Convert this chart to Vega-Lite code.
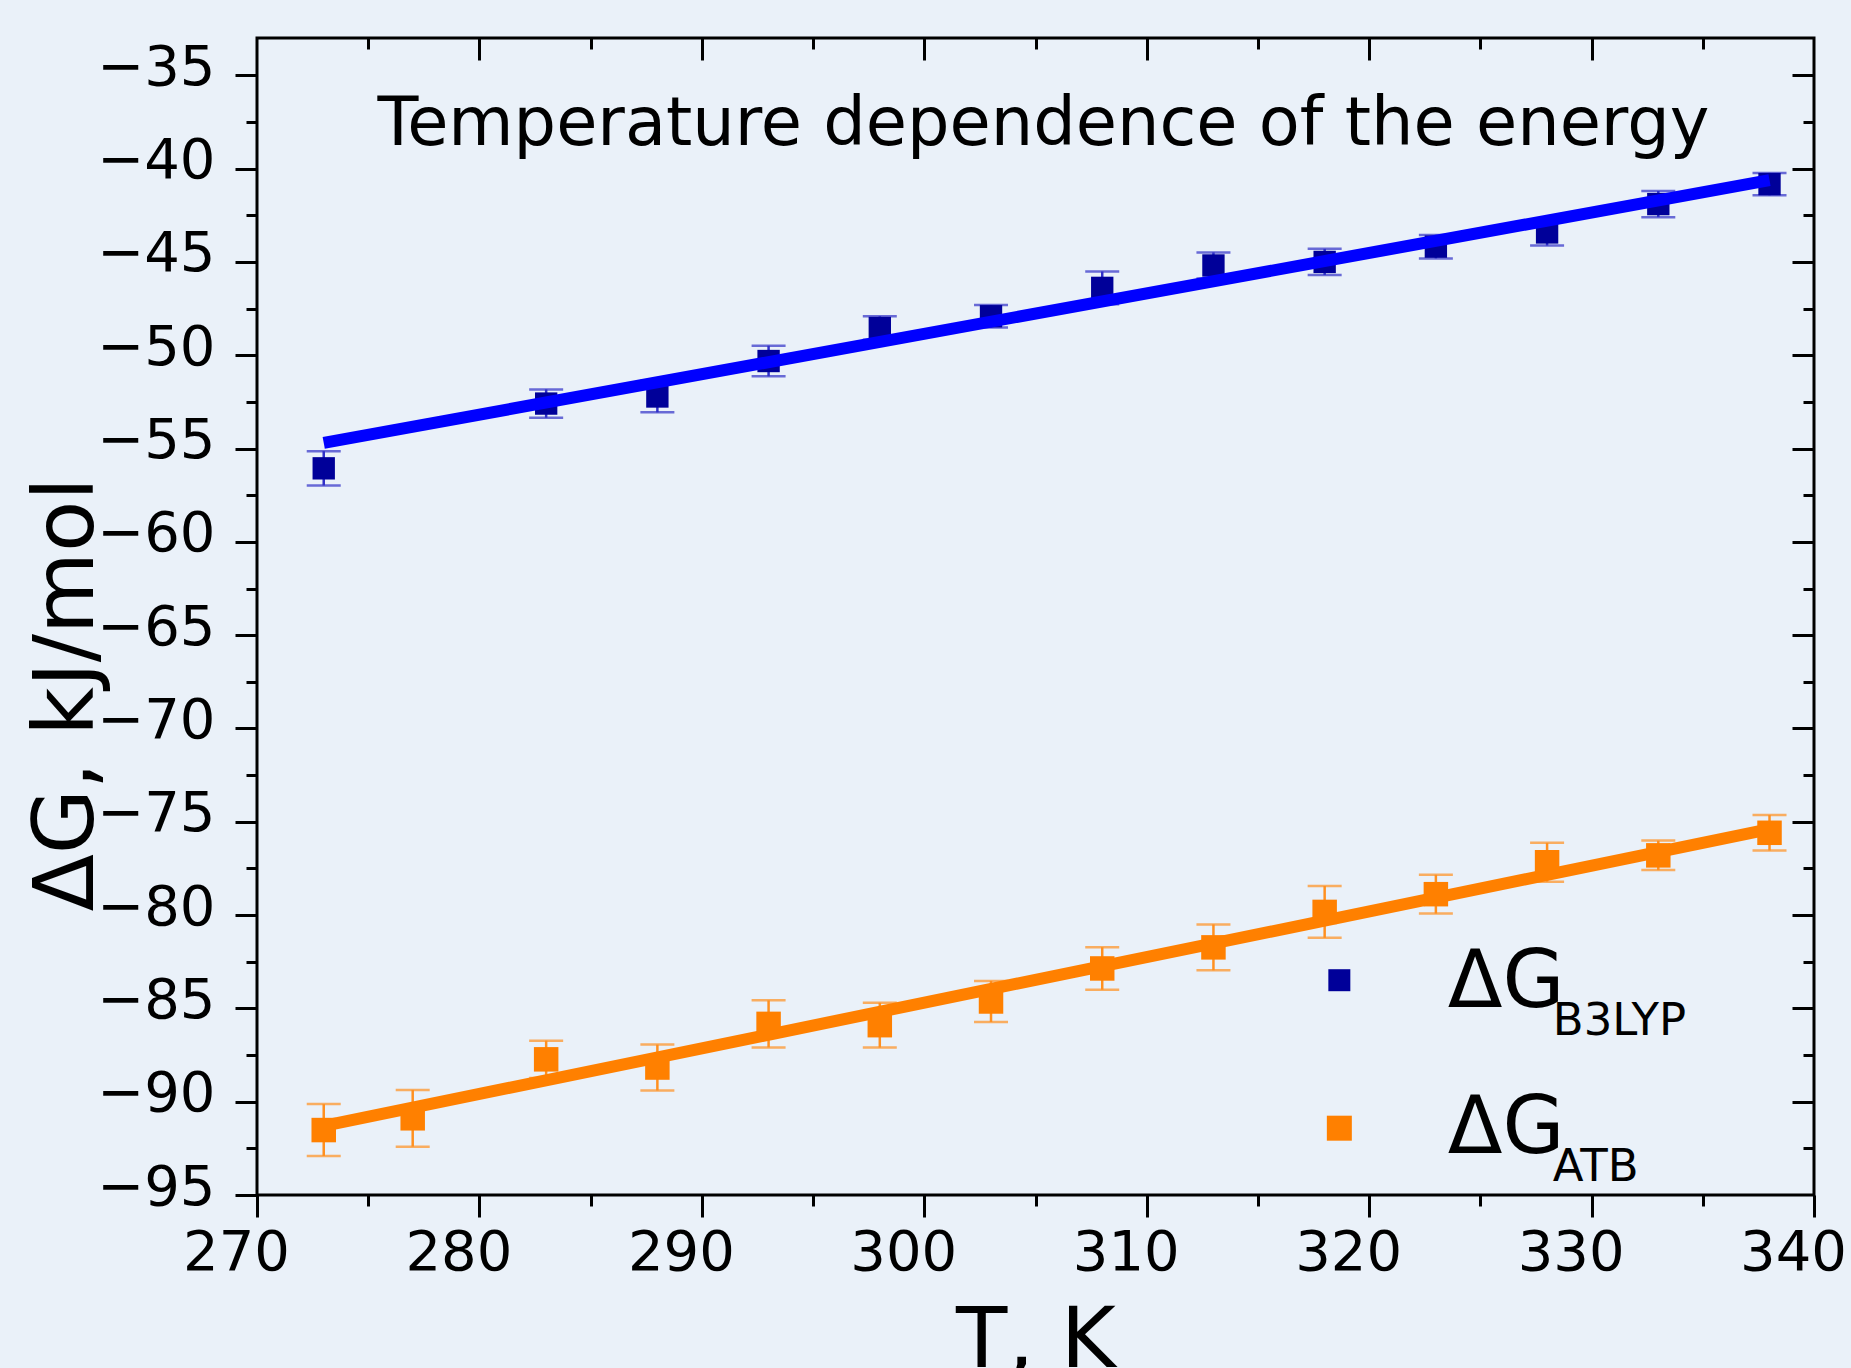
{
  "$schema": "https://vega.github.io/schema/vega-lite/v6.json",
  "autosize": {"type": "none"},
  "padding": {"left": 257, "top": 38, "right": 37, "bottom": 173},
  "width": 1557,
  "height": 1157,
  "background": "#eaf1f9",
  "title": {
    "text": "Temperature dependence of the energy",
    "orient": "top",
    "anchor": "middle",
    "frame": "group",
    "offset": -175,
    "baseline": "alphabetic",
    "dx": 8,
    "font": "DejaVu Sans",
    "fontSize": 67,
    "fontWeight": "normal",
    "color": "black"
  },
  "datasets": {
    "pts": [
      {"series": "B3LYP", "T": 273, "dG": -56.06, "lo": -56.98, "hi": -55.14},
      {"series": "B3LYP", "T": 283, "dG": -52.59, "lo": -53.35, "hi": -51.83},
      {"series": "B3LYP", "T": 288, "dG": -52.21, "lo": -53.06, "hi": -51.36},
      {"series": "B3LYP", "T": 293, "dG": -50.31, "lo": -51.13, "hi": -49.49},
      {"series": "B3LYP", "T": 298, "dG": -48.54, "lo": -49.17, "hi": -47.91},
      {"series": "B3LYP", "T": 303, "dG": -47.91, "lo": -48.51, "hi": -47.31},
      {"series": "B3LYP", "T": 308, "dG": -46.39, "lo": -47.27, "hi": -45.51},
      {"series": "B3LYP", "T": 313, "dG": -45.19, "lo": -45.89, "hi": -44.49},
      {"series": "B3LYP", "T": 318, "dG": -45.0, "lo": -45.7, "hi": -44.3},
      {"series": "B3LYP", "T": 323, "dG": -44.18, "lo": -44.81, "hi": -43.55},
      {"series": "B3LYP", "T": 328, "dG": -43.42, "lo": -44.12, "hi": -42.72},
      {"series": "B3LYP", "T": 333, "dG": -41.9, "lo": -42.6, "hi": -41.2},
      {"series": "B3LYP", "T": 338, "dG": -40.83, "lo": -41.43, "hi": -40.23},
      {"series": "ATB", "T": 273, "dG": -91.52, "lo": -92.91, "hi": -90.13},
      {"series": "ATB", "T": 277, "dG": -90.89, "lo": -92.41, "hi": -89.37},
      {"series": "ATB", "T": 283, "dG": -87.73, "lo": -88.73, "hi": -86.73},
      {"series": "ATB", "T": 288, "dG": -88.17, "lo": -89.4, "hi": -86.94},
      {"series": "ATB", "T": 293, "dG": -85.83, "lo": -87.09, "hi": -84.57},
      {"series": "ATB", "T": 298, "dG": -85.9, "lo": -87.1, "hi": -84.7},
      {"series": "ATB", "T": 303, "dG": -84.63, "lo": -85.73, "hi": -83.53},
      {"series": "ATB", "T": 308, "dG": -82.86, "lo": -84.0, "hi": -81.72},
      {"series": "ATB", "T": 313, "dG": -81.73, "lo": -82.96, "hi": -80.5},
      {"series": "ATB", "T": 318, "dG": -79.83, "lo": -81.22, "hi": -78.44},
      {"series": "ATB", "T": 323, "dG": -78.88, "lo": -79.92, "hi": -77.84},
      {"series": "ATB", "T": 328, "dG": -77.17, "lo": -78.21, "hi": -76.13},
      {"series": "ATB", "T": 333, "dG": -76.8, "lo": -77.59, "hi": -76.01},
      {"series": "ATB", "T": 338, "dG": -75.59, "lo": -76.54, "hi": -74.64}
    ],
    "fit": [
      {"series": "B3LYP", "T": 273, "fit": -54.7},
      {"series": "B3LYP", "T": 338, "fit": -40.62},
      {"series": "ATB", "T": 273, "fit": -91.3},
      {"series": "ATB", "T": 338, "fit": -75.4}
    ],
    "leg": [
      {"series": "B3LYP", "main": "ΔG", "sub": "B3LYP"},
      {"series": "ATB", "main": "ΔG", "sub": "ATB"}
    ]
  },
  "layer": [
    {
      "data": {"name": "pts"},
      "mark": {"type": "errorbar", "ticks": {"size": 34}, "thickness": 2.5},
      "encoding": {
        "x": {"field": "T", "type": "quantitative", "scale": {"domain": [270, 340], "nice": false, "zero": false}, "axis": null},
        "y": {"field": "lo", "type": "quantitative", "scale": {"domain": [-95, -33], "nice": false, "zero": false}, "axis": null},
        "y2": {"field": "hi"},
        "color": {"field": "series", "type": "nominal", "scale": {"domain": ["B3LYP", "ATB"], "range": ["#3030c8", "#ff9020"]}, "legend": null}
      }
    },
    {
      "data": {"name": "pts"},
      "mark": {"type": "point", "shape": "square", "filled": true, "opacity": 1},
      "encoding": {
        "x": {"field": "T", "type": "quantitative", "scale": {"domain": [270, 340], "nice": false, "zero": false},
          "axis": {"orient": "bottom", "values": [270, 280, 290, 300, 310, 320, 330, 340], "tickSize": 22, "tickWidth": 3, "tickColor": "black", "domain": false, "grid": false,
            "labelFont": "DejaVu Sans", "labelFontSize": 56, "labelColor": "black", "labelPadding": 8, "labelOffset": -21, "labelFlush": false, "labelOverlap": false, "labelBound": false,
            "title": "T, K", "titleFont": "DejaVu Sans", "titleFontSize": 84, "titleFontWeight": "normal", "titleColor": "black", "titleBaseline": "alphabetic", "titleY": 171}},
        "y": {"field": "dG", "type": "quantitative", "scale": {"domain": [-95, -33], "nice": false, "zero": false},
          "axis": {"orient": "left", "values": [-95, -90, -85, -80, -75, -70, -65, -60, -55, -50, -45, -40, -35], "tickSize": 22, "tickWidth": 3, "tickColor": "black", "domain": false, "grid": false,
            "labelFont": "DejaVu Sans", "labelFontSize": 56, "labelColor": "black", "labelPadding": 20, "labelOffset": -8, "labelOverlap": false, "labelBound": false, "labelFlush": false,
            "title": "ΔG, kJ/mol", "titleFont": "DejaVu Sans", "titleFontSize": 84, "titleFontWeight": "normal", "titleColor": "black", "titleAngle": 270, "titleBaseline": "alphabetic", "titleAlign": "center", "titleX": -165, "titleY": 656}},
        "color": {"field": "series", "type": "nominal", "scale": {"domain": ["B3LYP", "ATB"], "range": ["#000099", "#ff8000"]}, "legend": null},
        "size": {"field": "series", "type": "nominal", "scale": {"domain": ["B3LYP", "ATB"], "range": [500, 600]}, "legend": null}
      }
    },
    {
      "data": {"name": "fit"},
      "mark": {"type": "line", "strokeWidth": 12, "strokeCap": "butt"},
      "encoding": {
        "x": {"field": "T", "type": "quantitative", "scale": {"domain": [270, 340], "nice": false, "zero": false},
          "axis": {"orient": "bottom", "values": [275, 285, 295, 305, 315, 325, 335], "tickSize": 11, "tickWidth": 3, "tickColor": "black", "domain": false, "grid": false, "labels": false, "title": null}},
        "y": {"field": "fit", "type": "quantitative", "scale": {"domain": [-95, -33], "nice": false, "zero": false},
          "axis": {"orient": "left", "values": [-92.5, -87.5, -82.5, -77.5, -72.5, -67.5, -62.5, -57.5, -52.5, -47.5, -42.5, -37.5], "tickSize": 11, "tickWidth": 3, "tickColor": "black", "domain": false, "grid": false, "labels": false, "title": null}},
        "detail": {"field": "series"},
        "color": {"field": "series", "type": "nominal", "scale": {"domain": ["B3LYP", "ATB"], "range": ["#0000ff", "#ff8000"]}, "legend": null}
      }
    },
    {
      "data": {"name": "leg"},
      "transform": [{"filter": "datum.series == 'B3LYP'"}],
      "mark": {"type": "point", "shape": "square", "filled": true, "opacity": 1, "size": 484, "color": "#000099"},
      "encoding": {
        "x": {"datum": 318.66, "type": "quantitative", "scale": {"domain": [270, 340], "nice": false, "zero": false},
          "axis": {"orient": "top", "values": [280, 290, 300, 310, 320, 330], "tickSize": -22, "tickWidth": 3, "tickColor": "black", "domain": false, "grid": false, "labels": false, "title": null}},
        "y": {"datum": -83.49, "type": "quantitative", "scale": {"domain": [-95, -33], "nice": false, "zero": false},
          "axis": {"orient": "right", "values": [-90, -85, -80, -75, -70, -65, -60, -55, -50, -45, -40, -35], "tickSize": -22, "tickWidth": 3, "tickColor": "black", "domain": false, "grid": false, "labels": false, "title": null}}
      }
    },
    {
      "data": {"name": "leg"},
      "transform": [{"filter": "datum.series == 'ATB'"}],
      "mark": {"type": "point", "shape": "square", "filled": true, "opacity": 1, "size": 625, "color": "#ff8000"},
      "encoding": {
        "x": {"datum": 318.66, "type": "quantitative", "scale": {"domain": [270, 340], "nice": false, "zero": false},
          "axis": {"orient": "top", "values": [275, 285, 295, 305, 315, 325, 335], "tickSize": -11, "tickWidth": 3, "tickColor": "black", "domain": false, "grid": false, "labels": false, "title": null}},
        "y": {"datum": -91.42, "type": "quantitative", "scale": {"domain": [-95, -33], "nice": false, "zero": false},
          "axis": {"orient": "right", "values": [-92.5, -87.5, -82.5, -77.5, -72.5, -67.5, -62.5, -57.5, -52.5, -47.5, -42.5, -37.5], "tickSize": -11, "tickWidth": 3, "tickColor": "black", "domain": false, "grid": false, "labels": false, "title": null}}
      }
    },
    {
      "data": {"name": "leg"},
      "transform": [{"filter": "datum.series == 'B3LYP'"}],
      "mark": {"type": "text", "align": "left", "baseline": "alphabetic", "font": "DejaVu Sans", "fontSize": 80, "color": "black"},
      "encoding": {
        "x": {"datum": 323.53, "type": "quantitative", "axis": null},
        "y": {"datum": -84.94, "type": "quantitative", "axis": null},
        "text": {"field": "main"}
      }
    },
    {
      "data": {"name": "leg"},
      "transform": [{"filter": "datum.series == 'ATB'"}],
      "mark": {"type": "text", "align": "left", "baseline": "alphabetic", "font": "DejaVu Sans", "fontSize": 80, "color": "black"},
      "encoding": {
        "x": {"datum": 323.53, "type": "quantitative", "axis": null},
        "y": {"datum": -92.76, "type": "quantitative", "axis": null},
        "text": {"field": "main"}
      }
    },
    {
      "data": {"name": "leg"},
      "transform": [{"filter": "datum.series == 'B3LYP'"}],
      "mark": {"type": "text", "align": "left", "baseline": "alphabetic", "font": "DejaVu Sans", "fontSize": 45, "color": "black"},
      "encoding": {
        "x": {"datum": 328.26, "type": "quantitative", "axis": null},
        "y": {"datum": -86.44, "type": "quantitative", "axis": null},
        "text": {"field": "sub"}
      }
    },
    {
      "data": {"name": "leg"},
      "transform": [{"filter": "datum.series == 'ATB'"}],
      "mark": {"type": "text", "align": "left", "baseline": "alphabetic", "font": "DejaVu Sans", "fontSize": 45, "color": "black"},
      "encoding": {
        "x": {"datum": 328.26, "type": "quantitative", "axis": null},
        "y": {"datum": -94.27, "type": "quantitative", "axis": null},
        "text": {"field": "sub"}
      }
    }
  ],
  "resolve": {"scale": {"color": "independent"}, "axis": {"x": "independent", "y": "independent"}},
  "config": {
    "view": {"stroke": "black", "strokeWidth": 3},
    "axis": {"grid": false}
  }
}
